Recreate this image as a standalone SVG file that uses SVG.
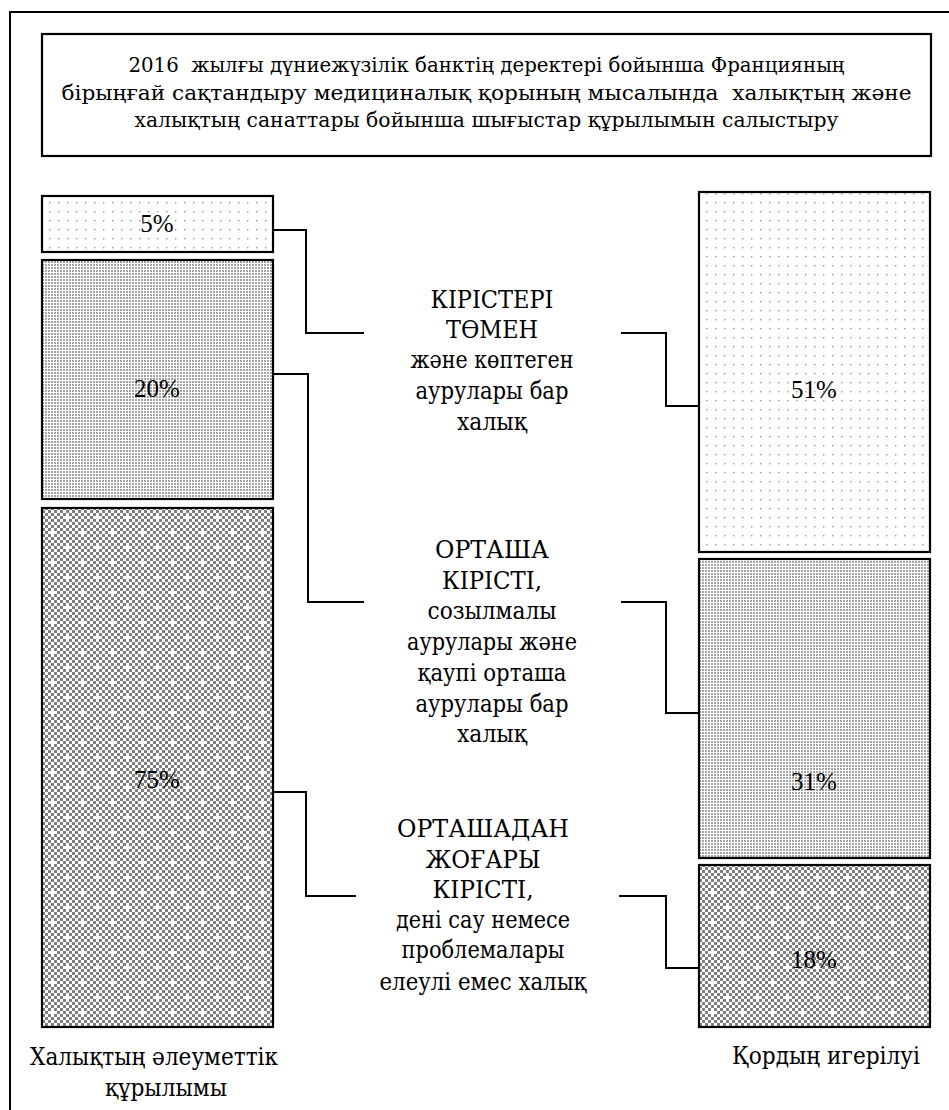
<svg xmlns="http://www.w3.org/2000/svg" width="949" height="1110" viewBox="0 0 949 1110">
<style>
.t{font-family:"DejaVu Serif","Liberation Serif","Times New Roman",serif;fill:#000;text-anchor:middle}
.title{font-size:21px}
.lbl{font-size:24px}
.pct{font-family:"Liberation Serif","Times New Roman",serif;font-size:25px}
.bar{stroke:#000;stroke-width:2.2}
.con{fill:none;stroke:#000;stroke-width:2}
</style>
<defs>
<pattern id="pLight" width="9" height="9" patternUnits="userSpaceOnUse">
<rect width="9" height="9" fill="#fff"/>
<rect x="4" y="4" width="1.4" height="1.4" fill="#9a9a9a"/>
</pattern>
<pattern id="pMed" width="3" height="3" patternUnits="userSpaceOnUse">
<rect width="3" height="3" fill="#fff"/>
<rect width="2" height="2" fill="#a4a4a4"/>
</pattern>
<pattern id="pChk" width="6" height="6" patternUnits="userSpaceOnUse">
<rect width="6" height="6" fill="#fff"/>
<rect width="3" height="3" fill="#7f7f7f"/>
<rect x="3" y="3" width="3" height="3" fill="#7f7f7f"/>
</pattern>
<pattern id="pDense" width="30" height="30" patternUnits="userSpaceOnUse">
<rect width="30" height="30" fill="url(#pChk)"/>
<rect x="6" y="6" width="3" height="3" fill="#fff"/>
<rect x="21" y="21" width="3" height="3" fill="#fff"/>
</pattern>
</defs>

<path d="M10,1110 V12 H949" fill="none" stroke="#000" stroke-width="2"/>

<g id="title">
<rect x="42" y="34" width="889" height="122" fill="#fff" stroke="#000" stroke-width="2.2"/>
<text class="t title" x="486.5" y="72" xml:space="preserve" textLength="716" lengthAdjust="spacingAndGlyphs">2016  жылғы дүниежүзілік банктің деректері бойынша Францияның</text>
<text class="t title" x="486.5" y="99.5" xml:space="preserve" textLength="850" lengthAdjust="spacingAndGlyphs">бірыңғай сақтандыру медициналық қорының мысалында  халықтың және</text>
<text class="t title" x="486.5" y="127" xml:space="preserve" textLength="704" lengthAdjust="spacingAndGlyphs">халықтың санаттары бойынша шығыстар құрылымын салыстыру</text>
</g>

<g id="connectors">
<path class="con" d="M273,230 H306 V333 H364"/>
<path class="con" d="M273,374 H308 V602 H364"/>
<path class="con" d="M273,792 H306 V896 H356"/>
<path class="con" d="M621,333 H666 V406 H699"/>
<path class="con" d="M621,602 H666 V713 H699"/>
<path class="con" d="M619,896 H666 V968 H699"/>
</g>

<g id="bar-left-5">
<rect class="bar" x="42" y="196" width="231" height="56" fill="url(#pLight)"/>
<text class="t pct" x="157" y="232">5%</text>
</g>
<g id="bar-left-20">
<rect class="bar" x="42" y="260" width="231" height="239" fill="url(#pMed)"/>
<text class="t pct" x="157" y="397">20%</text>
</g>
<g id="bar-left-75">
<rect class="bar" x="42" y="508" width="231" height="519" fill="url(#pDense)"/>
<text class="t pct" x="157" y="788">75%</text>
</g>

<g id="bar-right-51">
<rect class="bar" x="699" y="192" width="231" height="360" fill="url(#pLight)"/>
<text class="t pct" x="814" y="398">51%</text>
</g>
<g id="bar-right-31">
<rect class="bar" x="699" y="559" width="231" height="299" fill="url(#pMed)"/>
<text class="t pct" x="814" y="790">31%</text>
</g>
<g id="bar-right-18">
<rect class="bar" x="699" y="865" width="231" height="162" fill="url(#pDense)"/>
<text class="t pct" x="814" y="968">18%</text>
</g>

<g id="label-low">
<text class="t lbl" x="492" y="308" textLength="123" lengthAdjust="spacingAndGlyphs">КІРІСТЕРІ</text>
<text class="t lbl" x="492" y="338" textLength="92" lengthAdjust="spacingAndGlyphs">ТӨМЕН</text>
<text class="t lbl" x="492" y="368" textLength="163" lengthAdjust="spacingAndGlyphs">және көптеген</text>
<text class="t lbl" x="492" y="399" textLength="153" lengthAdjust="spacingAndGlyphs">аурулары бар</text>
<text class="t lbl" x="492" y="430" textLength="70" lengthAdjust="spacingAndGlyphs">халық</text>
</g>

<g id="label-mid">
<text class="t lbl" x="492" y="558" textLength="114" lengthAdjust="spacingAndGlyphs">ОРТАША</text>
<text class="t lbl" x="492" y="589" textLength="100" lengthAdjust="spacingAndGlyphs">КІРІСТІ,</text>
<text class="t lbl" x="492" y="619" textLength="129" lengthAdjust="spacingAndGlyphs">созылмалы</text>
<text class="t lbl" x="492" y="650" textLength="170" lengthAdjust="spacingAndGlyphs">аурулары және</text>
<text class="t lbl" x="492" y="681" textLength="149" lengthAdjust="spacingAndGlyphs">қаупі орташа</text>
<text class="t lbl" x="492" y="712" textLength="153" lengthAdjust="spacingAndGlyphs">аурулары бар</text>
<text class="t lbl" x="492" y="742" textLength="70" lengthAdjust="spacingAndGlyphs">халық</text>
</g>

<g id="label-high">
<text class="t lbl" x="483" y="837" textLength="172" lengthAdjust="spacingAndGlyphs">ОРТАШАДАН</text>
<text class="t lbl" x="483" y="868" textLength="115" lengthAdjust="spacingAndGlyphs">ЖОҒАРЫ</text>
<text class="t lbl" x="483" y="898" textLength="101" lengthAdjust="spacingAndGlyphs">КІРІСТІ,</text>
<text class="t lbl" x="483" y="928" textLength="174" lengthAdjust="spacingAndGlyphs">дені сау немесе</text>
<text class="t lbl" x="483" y="958" textLength="163" lengthAdjust="spacingAndGlyphs">проблемалары</text>
<text class="t lbl" x="483" y="990" textLength="207" lengthAdjust="spacingAndGlyphs">елеулі емес халық</text>
</g>

<g id="axis-left">
<text class="t lbl" x="154" y="1065" textLength="248" lengthAdjust="spacingAndGlyphs">Халықтың әлеуметтік</text>
<text class="t lbl" x="166" y="1096" textLength="122" lengthAdjust="spacingAndGlyphs">құрылымы</text>
</g>
<g id="axis-right">
<text class="t lbl" x="826" y="1064" textLength="188" lengthAdjust="spacingAndGlyphs">Қордың игерілуі</text>
</g>
</svg>
